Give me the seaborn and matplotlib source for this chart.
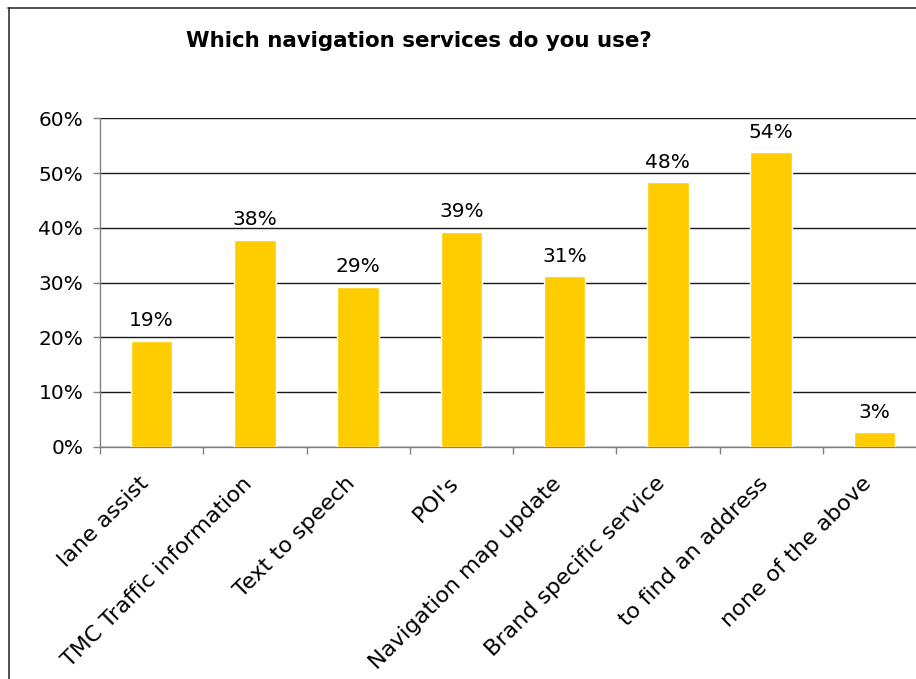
import matplotlib
matplotlib.use("Agg")
import matplotlib.pyplot as plt
from matplotlib.lines import Line2D
from matplotlib.transforms import ScaledTranslation
import seaborn as sns
import pandas as pd

# Survey answers: share of respondents per navigation service (percent)
services = [
    "lane assist",
    "TMC Traffic information",
    "Text to speech",
    "POI's",
    "Navigation map update",
    "Brand specific service",
    "to find an address",
    "none of the above",
]
share_pct = [19.4, 37.8, 29.2, 39.3, 31.2, 48.3, 53.8, 2.7]
y_ticks = [0, 10, 20, 30, 40, 50, 60]
title = "Which navigation services do you use?"

df = pd.DataFrame({"service": services, "share": share_pct})

sns.set_theme(style="white")
plt.rcParams["font.family"] = ["DejaVu Sans"]

W, H = 916, 679
fig = plt.figure(figsize=(W / 100, H / 100), dpi=100)
fig.patch.set_facecolor("white")

# plot area runs past the right edge of the canvas
ax = fig.add_axes([100 / W, (H - 446.7) / H, 826 / W, 328.4 / H])

sns.barplot(data=df, x="service", y="share", color="#FFCC00", width=0.4,
            saturation=1, ax=ax, zorder=3)

ax.set_xlim(-0.5, len(services) - 0.5)
ax.set_ylim(0, 60)
ax.set_xlabel("")
ax.set_ylabel("")

# horizontal gridlines
ax.set_yticks(y_ticks)
ax.set_yticklabels([f"{v}%" for v in y_ticks], fontsize=14.5)
ax.yaxis.grid(True, color="#1a1a1a", linewidth=1.0, zorder=0)
ax.xaxis.grid(False)
ax.tick_params(axis="y", which="major", left=True, length=5, width=1,
               color="#808080", pad=7, labelcolor="black")

# category boundary ticks; labels at category centres
ax.set_xticks([i - 0.5 for i in range(len(services) + 1)])
ax.set_xticklabels([""] * (len(services) + 1))
ax.set_xticks(range(len(services)), minor=True)
ax.set_xticklabels(services, minor=True, rotation=45, ha="right",
                   rotation_mode="anchor", va="center", fontsize=16)
ax.tick_params(axis="x", which="major", bottom=True, length=5, width=1,
               color="#808080")
ax.tick_params(axis="x", which="minor", bottom=False, length=0, pad=27,
               labelcolor="black")
# nudge the slanted labels slightly left and up
shift = ScaledTranslation(-6 / 100, 4 / 100, fig.dpi_scale_trans)
for lbl in ax.get_xticklabels(minor=True):
    lbl.set_transform(lbl.get_transform() + shift)

for side in ("top", "right"):
    ax.spines[side].set_visible(False)
for side in ("left", "bottom"):
    ax.spines[side].set_color("#808080")
    ax.spines[side].set_linewidth(1.0)

# value labels above bars
for cont in ax.containers:
    ax.bar_label(cont, labels=[f"{v:.0f}%" for v in share_pct],
                 padding=7.5, fontsize=14.5, color="black")

fig.text(418.5 / W, (H - 41) / H, title, ha="center", va="center",
         fontsize=15.4, fontweight="bold", color="black")

# chart frame (top and left edges)
fig.add_artist(Line2D([8 / W, 1], [(H - 7.5) / H] * 2,
                      transform=fig.transFigure, color="#333333", lw=1.2))
fig.add_artist(Line2D([8.5 / W] * 2, [0, (H - 7.5) / H],
                      transform=fig.transFigure, color="#333333", lw=1.2))

fig.savefig("out.png", dpi=100, facecolor="white")
